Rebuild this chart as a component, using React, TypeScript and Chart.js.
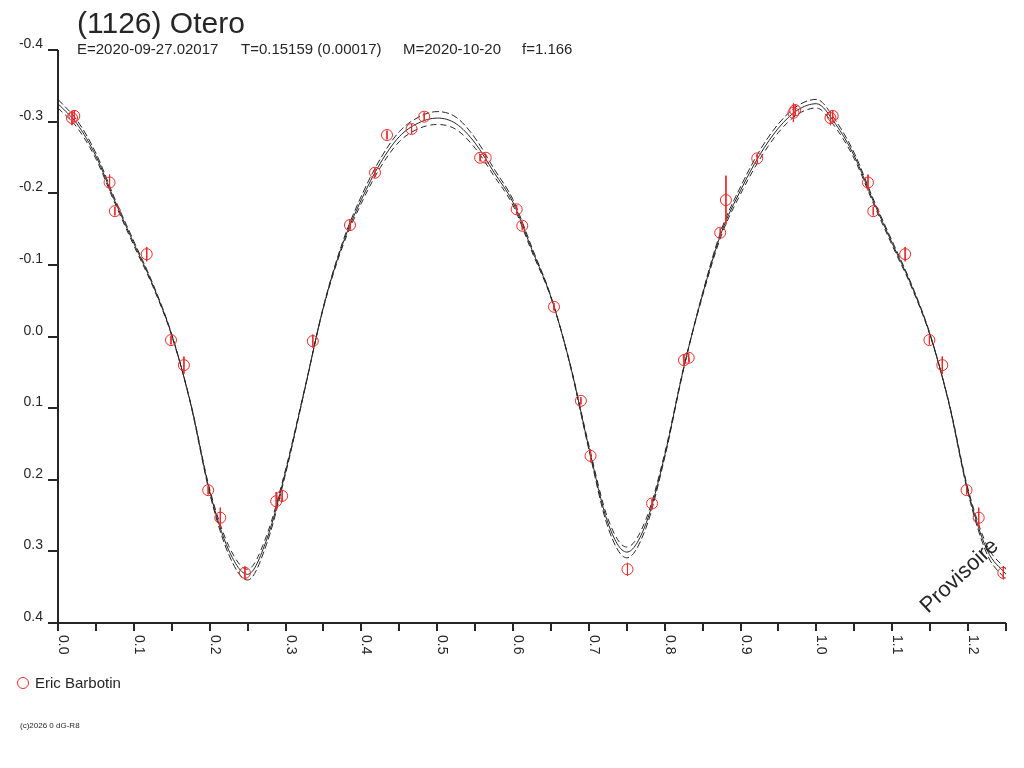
import React, { useEffect, useRef } from 'react';
import Chart from 'chart.js/auto';

const INK = '#262626';
const RED = '#ee2a2a';
const FONT = "'Liberation Sans', Arial, sans-serif";

const TITLE = '(1126) Otero';
const SUBTITLE = ['E=2020-09-27.02017', 'T=0.15159 (0.00017)', 'M=2020-10-20', 'f=1.166'];
const OBSERVER = 'Eric Barbotin';
const COPYRIGHT = '(c)2026 0 dG-R8';
const STAMP = 'Provisoire';

const X_MAX = 1.25;
const yTicks = [-0.4, -0.3, -0.2, -0.1, 0, 0.1, 0.2, 0.3, 0.4];
const xLabelTicks = [0, 0.1, 0.2, 0.3, 0.4, 0.5, 0.6, 0.7, 0.8, 0.9, 1.0, 1.1, 1.2];
const xMinorTicks = [0.05, 0.15, 0.25, 0.35, 0.45, 0.55, 0.65, 0.75, 0.85, 0.95, 1.05, 1.15, 1.25];

// observations (phase, reduced magnitude, error)
const obsPhase = [0.0185, 0.0215, 0.068, 0.075, 0.117, 0.149, 0.166, 0.198, 0.214, 0.2465, 0.2877, 0.2956, 0.336, 0.385, 0.418, 0.4338, 0.4662, 0.4829, 0.5566, 0.564, 0.6048, 0.6122, 0.654, 0.6895, 0.7022, 0.7509, 0.7833, 0.8254, 0.8316, 0.8732, 0.8807, 0.922, 0.9697, 0.972];
const obsMag = [-0.305, -0.308, -0.215, -0.175, -0.115, 0.005, 0.04, 0.2145, 0.253, 0.33, 0.23, 0.2225, 0.0064, -0.1556, -0.2287, -0.2813, -0.2897, -0.3069, -0.2496, -0.2496, -0.1775, -0.1546, -0.0415, 0.0898, 0.1666, 0.325, 0.2331, 0.033, 0.0297, -0.1449, -0.1905, -0.2487, -0.3124, -0.316];
const obsErr = [0.01, 0.008, 0.011, 0.006, 0.01, 0.006, 0.012, 0.006, 0.014, 0.009, 0.013, 0.008, 0.009, 0.008, 0.006, 0.006, 0.007, 0.006, 0.005, 0.005, 0.006, 0.006, 0.005, 0.005, 0.009, 0.009, 0.006, 0.008, 0.006, 0.006, 0.034, 0.006, 0.013, 0.008];

// model curves
const modelPhase = [0, 0.025, 0.05, 0.075, 0.1, 0.125, 0.15, 0.175, 0.2, 0.225, 0.25, 0.275, 0.3, 0.325, 0.35, 0.375, 0.4, 0.425, 0.45, 0.475, 0.5, 0.525, 0.55, 0.575, 0.6, 0.625, 0.65, 0.675, 0.7, 0.725, 0.75, 0.775, 0.8, 0.825, 0.85, 0.875, 0.9, 0.925, 0.95, 0.975, 1.0];
const modelMid = [-0.325, -0.297, -0.252, -0.189, -0.13, -0.072, -0.002, 0.094, 0.216, 0.298, 0.332, 0.284, 0.189, 0.075, -0.041, -0.128, -0.191, -0.242, -0.279, -0.298, -0.305, -0.297, -0.27, -0.229, -0.187, -0.121, -0.055, 0.038, 0.155, 0.26, 0.301, 0.262, 0.166, 0.044, -0.059, -0.146, -0.204, -0.253, -0.291, -0.316, -0.325];
const modelHigh = [-0.331, -0.302, -0.256, -0.192, -0.133, -0.074, -0.003, 0.095, 0.219, 0.304, 0.34, 0.29, 0.192, 0.076, -0.042, -0.131, -0.196, -0.248, -0.286, -0.306, -0.314, -0.306, -0.277, -0.234, -0.191, -0.124, -0.056, 0.039, 0.158, 0.266, 0.309, 0.268, 0.169, 0.045, -0.061, -0.15, -0.209, -0.259, -0.297, -0.322, -0.331];
const modelLow = [-0.319, -0.292, -0.248, -0.186, -0.127, -0.07, -0.001, 0.093, 0.213, 0.292, 0.325, 0.278, 0.186, 0.074, -0.04, -0.125, -0.186, -0.236, -0.272, -0.29, -0.296, -0.289, -0.263, -0.224, -0.183, -0.118, -0.054, 0.037, 0.152, 0.254, 0.294, 0.256, 0.163, 0.043, -0.057, -0.142, -0.199, -0.247, -0.285, -0.31, -0.319];

// the plot repeats the first quarter of the phase past 1.0
const curvePoints = (mags: number[]) => {
  const pts = modelPhase.map((p, i) => ({ x: p, y: mags[i] }));
  modelPhase.forEach((p, i) => {
    if (p > 0 && p <= 0.25) pts.push({ x: p + 1, y: mags[i] });
  });
  return pts;
};

const obsPoints = () => {
  const pts = obsPhase.map((p, i) => ({ x: p, y: obsMag[i], e: obsErr[i] }));
  obsPhase.forEach((p, i) => {
    if (p + 1 <= X_MAX) pts.push({ x: p + 1, y: obsMag[i], e: obsErr[i] });
  });
  return pts;
};

const framePlugin = {
  id: 'frame',
  afterDraw(chart: any) {
    const { ctx, chartArea: a } = chart;
    const xs = chart.scales.x;
    const ys = chart.scales.y;
    ctx.save();
    ctx.strokeStyle = INK;
    ctx.fillStyle = INK;
    ctx.lineWidth = 2;

    ctx.beginPath();
    ctx.moveTo(a.left, a.top);
    ctx.lineTo(a.left, a.bottom);
    ctx.moveTo(a.left - 10, a.bottom);
    ctx.lineTo(a.right, a.bottom);
    yTicks.forEach((v) => {
      const py = Math.round(ys.getPixelForValue(v));
      ctx.moveTo(a.left - 10, py);
      ctx.lineTo(a.left, py);
    });
    [...xLabelTicks, ...xMinorTicks].forEach((v) => {
      const px = Math.round(xs.getPixelForValue(v));
      ctx.moveTo(px, a.bottom);
      ctx.lineTo(px, a.bottom + 8);
    });
    ctx.stroke();

    ctx.font = `14px ${FONT}`;
    ctx.textAlign = 'right';
    ctx.textBaseline = 'alphabetic';
    yTicks.forEach((v) => {
      const py = Math.round(ys.getPixelForValue(v));
      ctx.fillText(v.toFixed(1), a.left - 15, py - 2);
    });

    ctx.textAlign = 'left';
    xLabelTicks.forEach((v) => {
      const px = Math.round(xs.getPixelForValue(v));
      ctx.save();
      ctx.translate(px + 1, a.bottom + 12);
      ctx.rotate(Math.PI / 2);
      ctx.fillText(v.toFixed(1), 0, 0);
      ctx.restore();
    });

    ctx.font = `30px ${FONT}`;
    ctx.fillText(TITLE, 77, 33);
    ctx.font = `15px ${FONT}`;
    const subX = [77, 241, 403, 522];
    SUBTITLE.forEach((s, i) => ctx.fillText(s, subX[i], 54));

    ctx.strokeStyle = RED;
    ctx.lineWidth = 1;
    ctx.beginPath();
    ctx.arc(23, 683, 5.5, 0, Math.PI * 2);
    ctx.stroke();
    ctx.fillText(OBSERVER, 35, 688);

    ctx.font = `8px ${FONT}`;
    ctx.fillText(COPYRIGHT, 20, 728);

    ctx.save();
    ctx.translate(928, 614);
    ctx.rotate((-43 * Math.PI) / 180);
    ctx.font = `22px ${FONT}`;
    ctx.fillText(STAMP, 0, 0);
    ctx.restore();

    ctx.restore();
  },
};

export default function App() {
  const canvasRef = useRef<HTMLCanvasElement | null>(null);

  useEffect(() => {
    if (!canvasRef.current) return;
    const obs = obsPoints();
    const errPts: { x: number; y: number | null }[] = [];
    obs.forEach((o) => {
      errPts.push({ x: o.x, y: o.y - o.e }, { x: o.x, y: o.y + o.e }, { x: o.x, y: null });
    });

    const curve = (mags: number[], dash: number[]) => ({
      data: curvePoints(mags),
      showLine: true,
      pointRadius: 0,
      borderColor: INK,
      borderWidth: 1,
      borderDash: dash,
      cubicInterpolationMode: 'monotone' as const,
      order: 2,
    });

    const chart = new Chart(canvasRef.current, {
      type: 'scatter',
      data: {
        datasets: [
          {
            data: obs.map((o) => ({ x: o.x, y: o.y })),
            pointRadius: 5.5,
            pointBorderColor: RED,
            pointBackgroundColor: 'rgba(0,0,0,0)',
            pointBorderWidth: 1,
            order: 0,
          },
          {
            data: errPts as any,
            showLine: true,
            spanGaps: false,
            pointRadius: 0,
            borderColor: RED,
            borderWidth: 1,
            order: 1,
          },
          curve(modelMid, []),
          curve(modelHigh, [7, 3]),
          curve(modelLow, [6, 4]),
        ],
      },
      options: {
        animation: false,
        responsive: false,
        devicePixelRatio: 1,
        events: [],
        layout: { padding: { left: 58, right: 18, top: 50, bottom: 145 } },
        scales: {
          x: { type: 'linear', min: 0, max: X_MAX, display: false },
          y: { type: 'linear', min: -0.4, max: 0.4, reverse: true, display: false },
        },
        plugins: {
          legend: { display: false },
          tooltip: { enabled: false },
        },
      },
      plugins: [framePlugin],
    });

    return () => {
      chart.destroy();
    };
  }, []);

  return (
    <div style={{ position: 'absolute', left: 0, top: 0, width: 1024, height: 768, background: '#fff' }}>
      <canvas ref={canvasRef} width={1024} height={768} style={{ display: 'block' }} />
    </div>
  );
}
